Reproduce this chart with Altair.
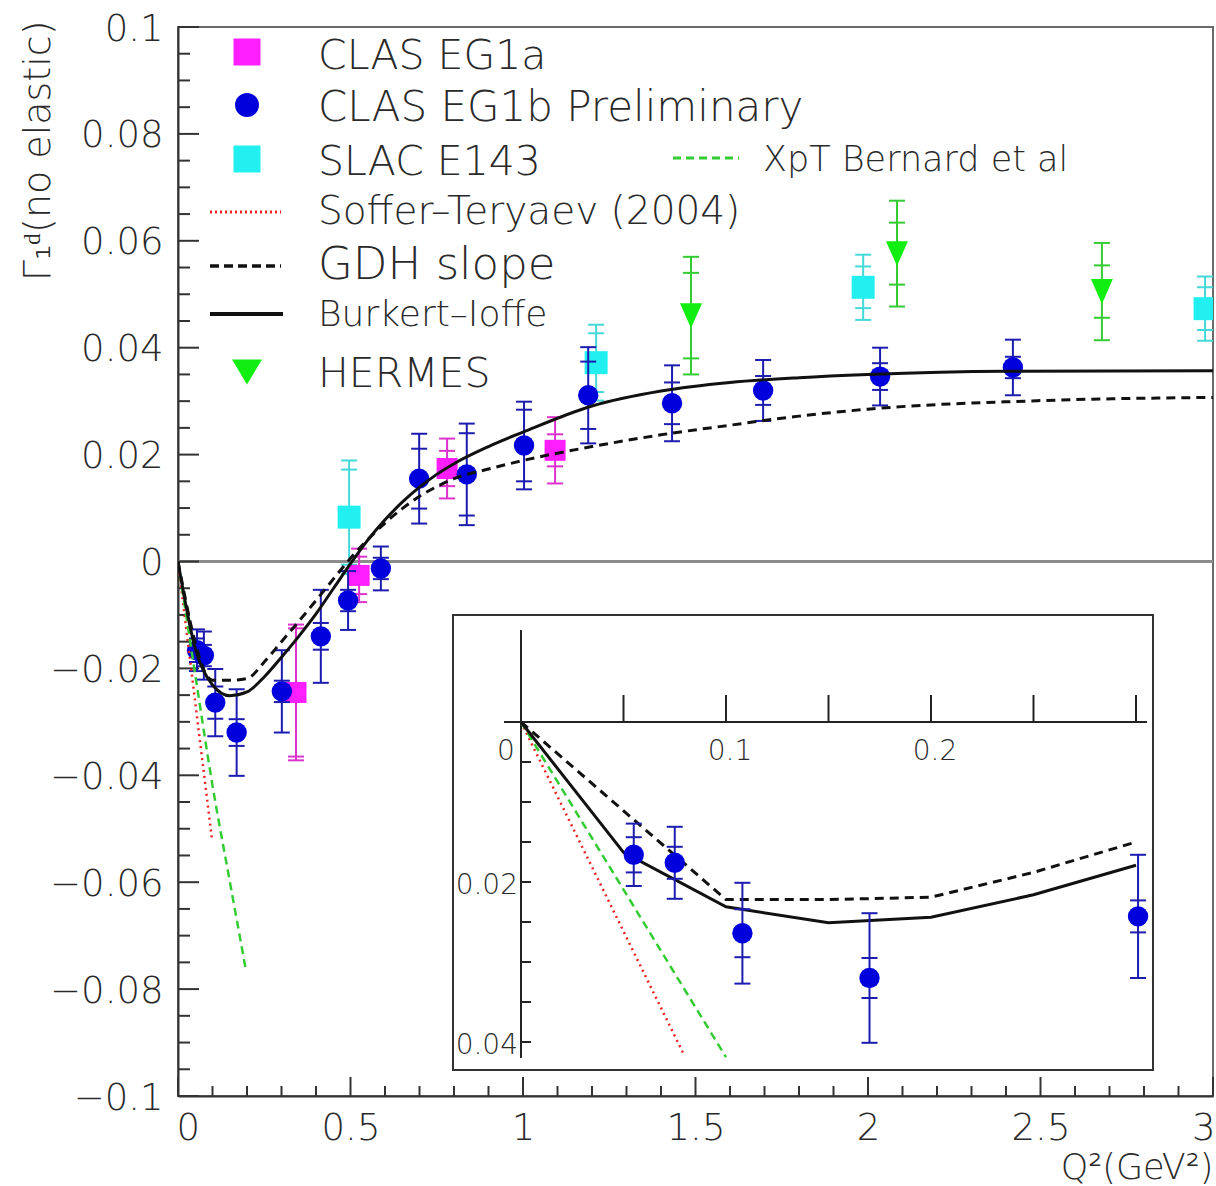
import altair as alt
import pandas as pd

# ---------------- data ----------------
# CLAS EG1b Preliminary (blue circles)
eg1b_q2 = [0.055, 0.075, 0.108, 0.170, 0.301, 0.414, 0.493, 0.588, 0.699, 0.837,
           1.003, 1.189, 1.432, 1.696, 2.035, 2.420]
eg1b_g1 = [-0.0166, -0.0176, -0.0264, -0.0320, -0.0243, -0.0140, -0.0073, -0.0013,
           0.0155, 0.0163, 0.0217, 0.0311, 0.0296, 0.0320, 0.0346, 0.0363]
eg1b_tot = [0.0039, 0.0045, 0.0063, 0.0081, 0.0077, 0.0087, 0.0055, 0.0041,
            0.0084, 0.0095, 0.0082, 0.0090, 0.0071, 0.0057, 0.0054, 0.0052]
eg1b_stat = [0.0022, 0.0020, 0.0030, 0.0025, 0.0020, 0.0025, 0.0020, 0.0020,
             0.0056, 0.0077, 0.0067, 0.0063, 0.0039, 0.0027, 0.0025, 0.0020]

# CLAS EG1a (magenta squares)
eg1a_q2 = [0.342, 0.525, 0.780, 1.093]
eg1a_g1 = [-0.0245, -0.0026, 0.0174, 0.0208]
eg1a_tot = [0.0127, 0.0050, 0.0056, 0.0062]
eg1a_stat = [0.0120, 0.0035, 0.0033, 0.0030]

# SLAC E143 (cyan squares)
e143_q2 = [0.496, 1.212, 1.986, 2.977]
e143_g1 = [0.0083, 0.0372, 0.0513, 0.0473]
e143_tot = [0.0106, 0.0071, 0.0061, 0.0060]
e143_stat = [0.0089, 0.0055, 0.0039, 0.0040]

# HERMES (green down triangles)
hermes_q2 = [1.487, 2.084, 2.678]
hermes_g1 = [0.0460, 0.0576, 0.0505]
hermes_tot = [0.0110, 0.0099, 0.0091]
hermes_stat = [0.0080, 0.0058, 0.0049]

# Burkert-Ioffe (solid)
bi_q2 = [0, 0.05, 0.1, 0.15, 0.2, 0.25, 0.3, 0.35, 0.4, 0.45, 0.5, 0.55, 0.6, 0.65,
         0.7, 0.75, 0.8, 0.9, 1.0, 1.2, 1.4, 1.6, 1.8, 2.0, 2.4, 3.0]
bi_g1 = [0, -0.0163, -0.0231, -0.0251, -0.0244, -0.0216, -0.0179, -0.0140, -0.0098,
         -0.0051, -0.0004, 0.0040, 0.0078, 0.0111, 0.0139, 0.0163, 0.0183, 0.0215,
         0.0242, 0.0291, 0.0319, 0.0335, 0.0344, 0.0350, 0.0356, 0.0357]
# GDH slope (black dashed)
gdh_q2 = [0, 0.1, 0.15, 0.2, 0.25, 0.3, 0.35, 0.4, 0.45, 0.5, 0.55, 0.6, 0.65, 0.7,
          0.75, 0.8, 0.9, 1.0, 1.2, 1.4, 1.6, 1.8, 2.0, 2.5, 3.0]
gdh_g1 = [0, -0.0222, -0.0222, -0.0219, -0.0188, -0.0150, -0.0112, -0.0073, -0.0033,
          0.0006, 0.0041, 0.0072, 0.0099, 0.0122, 0.0140, 0.0155, 0.0173, 0.0189,
          0.0215, 0.0237, 0.0255, 0.0272, 0.0285, 0.0301, 0.0307]
# Soffer-Teryaev (red dotted)
soffer_q2 = [0.0, 0.098]
soffer_g1 = [0.0, -0.0517]
# XpT Bernard et al (green dashed)
xpt_q2 = [0.0, 0.05, 0.1, 0.15, 0.197]
xpt_g1 = [0.0, -0.0212, -0.0419, -0.0598, -0.0765]
# the same two curves as cut by the inset frame
inset_soffer_q2 = [0.0, 0.0795]
inset_soffer_g1 = [0.0, -0.0416]
inset_xpt_q2 = [0.0, 0.1]
inset_xpt_g1 = [0.0, -0.0419]

# axis ticks / labels
x_major = [0, 0.5, 1, 1.5, 2, 2.5, 3]
x_minor = [round(i * 0.1, 1) for i in range(31) if i % 5]
y_major = [-0.1, -0.08, -0.06, -0.04, -0.02, 0, 0.02, 0.04, 0.06, 0.08, 0.1]
y_minor = [round(-0.1 + i * 0.005, 3) for i in range(41) if i % 4]
inset_x_ticks = [0.05, 0.1, 0.15, 0.2, 0.25, 0.3]
inset_y_ticks = [-0.005, -0.01, -0.015, -0.02, -0.025, -0.03, -0.035, -0.04]
inset_x_label_pos = [0.1, 0.2]
inset_x_labels = ["0.1", "0.2"]
inset_y_label_pos = [-0.02, -0.04]
inset_y_labels = ["0.02", "0.04"]

legend_labels = ["CLAS EG1a", "CLAS EG1b Preliminary", "SLAC E143", "XpT Bernard et al",
                 "Soffer\u2013Teryaev (2004)", "GDH slope", "Burkert\u2013Ioffe", "HERMES"]

# ---------------- styling ----------------
W, H = 1035, 1069
FONT = "DejaVu Sans"
FW = 200
TXT = "#2a2a2a"
BLUE, BLUE_BAR = "#0000dd", "#1c1cb0"
MAG, MAG_BAR = "#ff1eff", "#dd33cc"
CYAN, CYAN_BAR = "#22f0f0", "#44d8d8"
GREEN, GREEN_BAR = "#11ee11", "#33cc33"
RED = "#ee2222"
TRI = "M-1,-1.136L1,-1.136L0,1.136Z"
TRI_LEG = "M-1,-0.833L1,-0.833L0,0.833Z"

xs = alt.Scale(domain=[0, 3], nice=False, zero=False)
ys = alt.Scale(domain=[-0.1, 0.1], nice=False, zero=False)
xs_in = alt.Scale(domain=[0, 0.3], range=[343, 958], nice=False, zero=False)
ys_in = alt.Scale(domain=[-0.04, 0], range=[1015, 695], nice=False, zero=False)

ax_x = alt.Axis(values=x_major, format="~g", ticks=False, grid=False, domain=True,
                domainColor="#333", domainWidth=2, labelFlush=True, labelFlushOffset=2,
                labelOverlap=False,
                labelFont=FONT, labelFontSize=37, labelFontWeight=FW, labelColor=TXT,
                labelPadding=14,
                title="Q\u00b2(GeV\u00b2)", titleFont=FONT, titleFontSize=35,
                titleFontWeight=FW, titleColor=TXT, titleX=W, titleY=82,
                titleAlign="right", titleAnchor="end", titleBaseline="alphabetic")
ax_y = alt.Axis(values=y_major, format="~g", ticks=False, grid=False, domain=True,
                domainColor="#333", domainWidth=2, labelFlush=False, labelOverlap=False,
                labelFont=FONT, labelFontSize=37, labelFontWeight=FW, labelColor=TXT,
                labelPadding=15, labelBaseline="middle", labelOffset=2,
                title="\u0393\u2081\u1d48(no elastic)", titleFont=FONT, titleFontSize=38,
                titleFontWeight=FW, titleColor=TXT, titleX=-140, titleY=-7,
                titleAngle=270, titleAlign="right", titleBaseline="middle")


def X(f):
    return alt.X(f"{f}:Q", scale=xs, axis=ax_x)


def Y(f):
    return alt.Y(f"{f}:Q", scale=ys, axis=ax_y)


def XI(f):
    return alt.X(f"{f}:Q", scale=xs_in, axis=None)


def YI(f):
    return alt.Y(f"{f}:Q", scale=ys_in, axis=None)


def series_df(q2, g1, tot, stat):
    df = pd.DataFrame({"q2": q2, "g1": g1, "tot": tot, "stat": stat})
    df["lo"] = df["g1"] - df["tot"]
    df["hi"] = df["g1"] + df["tot"]
    return df


def caps_df(df):
    rows = []
    for _, r in df.iterrows():
        for v in (r.g1 - r.tot, r.g1 + r.tot, r.g1 - r.stat, r.g1 + r.stat):
            rows.append({"q2": r.q2, "cap": v})
    return pd.DataFrame(rows)


def data_layers(df, bar_color, mark_color, shape, size, xf, yf):
    caps = caps_df(df)
    bars = alt.Chart(df).mark_rule(color=bar_color, strokeWidth=2, clip=True).encode(
        x=xf("q2"), y=yf("lo"), y2="hi:Q")
    cap = alt.Chart(caps).mark_tick(orient="horizontal", size=16, thickness=2,
                                    color=bar_color, opacity=1, clip=True).encode(
        x=xf("q2"), y=yf("cap"))
    pts = alt.Chart(df).mark_point(shape=shape, filled=True, size=size, color=mark_color,
                                   opacity=1, strokeWidth=0, clip=True).encode(
        x=xf("q2"), y=yf("g1"))
    return [bars, cap, pts]


def curve(q2, g1, color, width, dash, xf, yf, smooth=True):
    df = pd.DataFrame({"q2": q2, "g1": g1})
    kw = dict(color=color, strokeWidth=width, strokeCap="butt", clip=True)
    if smooth:
        kw["interpolate"] = "monotone"
    if dash:
        kw["strokeDash"] = dash
    return alt.Chart(df).mark_line(**kw).encode(x=xf("q2"), y=yf("g1"))


df_eg1b = series_df(eg1b_q2, eg1b_g1, eg1b_tot, eg1b_stat)
df_eg1a = series_df(eg1a_q2, eg1a_g1, eg1a_tot, eg1a_stat)
df_e143 = series_df(e143_q2, e143_g1, e143_tot, e143_stat)
df_herm = series_df(hermes_q2, hermes_g1, hermes_tot, hermes_stat)

one = pd.DataFrame({"k": [0]})

# ---------------- main panel ----------------
main_layers = []
main_layers.append(alt.Chart(pd.DataFrame({"g1": [0]})).mark_rule(
    color="#8c8c8c", strokeWidth=3).encode(y=Y("g1")))
main_layers.append(alt.Chart(pd.DataFrame({"q2": x_major})).mark_rule(
    color="#333", strokeWidth=2).encode(x=X("q2"), y=alt.value(H), y2=alt.value(H - 19)))
main_layers.append(alt.Chart(pd.DataFrame({"q2": x_minor})).mark_rule(
    color="#333", strokeWidth=2).encode(x=X("q2"), y=alt.value(H), y2=alt.value(H - 10)))
main_layers.append(alt.Chart(pd.DataFrame({"g1": y_major})).mark_rule(
    color="#333", strokeWidth=2).encode(y=Y("g1"), x=alt.value(0), x2=alt.value(21)))
main_layers.append(alt.Chart(pd.DataFrame({"g1": y_minor})).mark_rule(
    color="#333", strokeWidth=2).encode(y=Y("g1"), x=alt.value(0), x2=alt.value(12)))

main_layers += data_layers(df_e143, CYAN_BAR, CYAN, "square", 529, X, Y)
main_layers += data_layers(df_eg1a, MAG_BAR, MAG, "square", 441, X, Y)
main_layers += data_layers(df_herm, GREEN_BAR, GREEN, TRI, 484, X, Y)
main_layers += data_layers(df_eg1b, BLUE_BAR, BLUE, "circle", 415, X, Y)

main_layers.append(curve(soffer_q2, soffer_g1, RED, 2.5, [2, 4], X, Y))
main_layers.append(curve(xpt_q2, xpt_g1, GREEN_BAR, 2.5, [8, 5], X, Y))
main_layers.append(curve(gdh_q2, gdh_g1, "#111", 3, [9, 6], X, Y))
main_layers.append(curve(bi_q2, bi_g1, "#111", 3, None, X, Y))


# legend (layout only)
def leg_text(label, x, y, fs):
    return alt.Chart(pd.DataFrame({"label": [label]})).mark_text(
        align="left", baseline="middle", font=FONT, fontSize=fs, fontWeight=FW,
        color=TXT).encode(x=alt.value(x), y=alt.value(y), text="label:N")


def leg_sym(shape, color, size, y):
    return alt.Chart(one).mark_point(shape=shape, filled=True, size=size, color=color,
                                     opacity=1, strokeWidth=0).encode(
        x=alt.value(69), y=alt.value(y))


def leg_line(color, width, dash, x1, x2, y):
    kw = dict(color=color, strokeWidth=width, strokeCap="butt")
    if dash:
        kw["strokeDash"] = dash
    return alt.Chart(one).mark_rule(**kw).encode(x=alt.value(x1), x2=alt.value(x2),
                                                  y=alt.value(y))


main_layers += [
    leg_sym("square", MAG, 729, 25), leg_text(legend_labels[0], 140, 30, 41),
    leg_sym("circle", BLUE, 573, 78), leg_text(legend_labels[1], 140, 81, 42),
    leg_sym("square", CYAN, 729, 132), leg_text(legend_labels[2], 140, 136, 41),
    leg_line(GREEN_BAR, 3, [8, 5], 495, 561, 131), leg_text(legend_labels[3], 585, 133, 35),
    leg_line(RED, 3, [2, 3], 32, 103, 185), leg_text(legend_labels[4], 140, 185, 39),
    leg_line("#111", 3.5, [9, 5], 32, 103, 239), leg_text(legend_labels[5], 140, 238, 45),
    leg_line("#111", 4, None, 32, 105, 287), leg_text(legend_labels[6], 140, 288, 36),
    leg_sym(TRI_LEG, GREEN, 900, 345), leg_text(legend_labels[7], 140, 348, 41),
]

main = alt.layer(*main_layers)

# ---------------- inset ----------------
inset_layers = []
inset_layers.append(alt.Chart(one).mark_rect(fill="white", stroke="#333", strokeWidth=2).encode(
    x=alt.value(275), x2=alt.value(975), y=alt.value(588), y2=alt.value(1043)))
inset_layers.append(alt.Chart(pd.DataFrame({"g1": [0]})).mark_rule(
    color="#222", strokeWidth=2).encode(y=YI("g1"), x=alt.value(326), x2=alt.value(969)))
inset_layers.append(alt.Chart(pd.DataFrame({"q2": [0]})).mark_rule(
    color="#222", strokeWidth=2).encode(x=XI("q2"), y=alt.value(603), y2=alt.value(1031)))
inset_layers.append(alt.Chart(pd.DataFrame({"q2": inset_x_ticks})).mark_rule(
    color="#222", strokeWidth=2).encode(x=XI("q2"), y=alt.value(668), y2=alt.value(695)))
inset_layers.append(alt.Chart(pd.DataFrame({"g1": inset_y_ticks})).mark_rule(
    color="#222", strokeWidth=2).encode(y=YI("g1"), x=alt.value(343), x2=alt.value(353)))
inset_layers.append(alt.Chart(pd.DataFrame({"q2": inset_x_label_pos, "t": inset_x_labels})).mark_text(
    align="center", baseline="middle", font=FONT, fontSize=28, fontWeight=FW, color=TXT,
    dx=4).encode(x=XI("q2"), y=alt.value(725), text="t:N"))
inset_layers.append(alt.Chart(pd.DataFrame({"q2": [0], "t": ["0"]})).mark_text(
    align="center", baseline="middle", font=FONT, fontSize=28, fontWeight=FW, color=TXT,
    dx=-15).encode(x=XI("q2"), y=alt.value(725), text="t:N"))
inset_layers.append(alt.Chart(pd.DataFrame({"g1": inset_y_label_pos, "t": inset_y_labels})).mark_text(
    align="right", baseline="middle", font=FONT, fontSize=28, fontWeight=FW, color=TXT,
    dy=4).encode(y=YI("g1"), x=alt.value(340), text="t:N"))

inset_layers.append(curve(inset_soffer_q2, inset_soffer_g1, RED, 2.5, [2, 4], XI, YI))
inset_layers.append(curve(inset_xpt_q2, inset_xpt_g1, GREEN_BAR, 2.5, [8, 5], XI, YI))
inset_layers.append(curve([q for q in gdh_q2 if q <= 0.3],
                          [g for q, g in zip(gdh_q2, gdh_g1) if q <= 0.3],
                          "#111", 3, [9, 6], XI, YI, smooth=False))
inset_layers.append(curve([q for q in bi_q2 if q <= 0.3],
                          [g for q, g in zip(bi_q2, bi_g1) if q <= 0.3],
                          "#111", 3, None, XI, YI, smooth=False))
inset_layers += data_layers(df_eg1b[df_eg1b["q2"] <= 0.31].reset_index(drop=True),
                            BLUE_BAR, BLUE, "circle", 415, XI, YI)

inset = alt.layer(*inset_layers)

chart = alt.layer(main, inset).resolve_scale(
    x="independent", y="independent"
).properties(
    width=W, height=H,
    padding={"left": 178, "top": 27, "right": 3, "bottom": 90},
    autosize=alt.AutoSizeParams(type="none"),
    background="white",
).configure_view(stroke="#6a6a6a", strokeWidth=2)

chart.save("out.html", embed_options={"renderer": "svg", "actions": False})
